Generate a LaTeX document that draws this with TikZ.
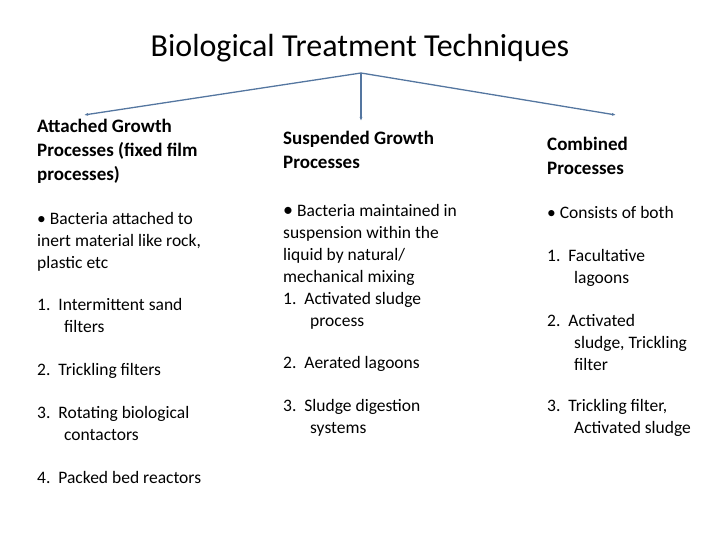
\documentclass[tikz,border=0pt]{standalone}
\usepackage{fontspec}
\usetikzlibrary{arrows.meta}
\setmainfont{Carlito}
\definecolor{lnc}{RGB}{84,118,160}
\begin{document}
\begin{tikzpicture}[x=1pt,y=-1pt,
  t/.style={anchor=north west,align=left,inner sep=0pt,font=\fontsize{17.5}{22}\selectfont},
  h/.style={t,font=\fontsize{19}{24}\selectfont\bfseries},
  ln/.style={draw=lnc,line width=1.3pt},
  ar/.style={ln,-{Latex[length=4pt,width=3pt]}}]
\useasboundingbox (0,0) rectangle (720,540);
\node[anchor=center,font=\fontsize{32}{36}\selectfont] (title) at (360,48) {Biological Treatment Techniques};
\coordinate (apex) at (361,73);
\coordinate (l) at (84,115);
\coordinate (r) at (616,115);
\coordinate (m) at (361,121);
\draw[ar] (apex) -- (l);
\draw[ar] (apex) -- (r);
\draw[ar] (apex) -- (m);
\node[h] (h1) at (37,119) {Attached Growth\\Processes (fixed film\\processes)};
\node[h] (h2) at (283,131) {Suspended Growth\\Processes};
\node[h] (h3) at (547,137) {Combined\\Processes};
\node[t] (a1) at (37,212) {\textbullet\ Bacteria attached to\\inert material like rock,\\plastic etc};
\node[t] (a2) at (37,298) {1.\ \ Intermittent sand\\\hspace*{27pt}filters};
\node[t] (a3) at (37,363) {2.\ \ Trickling filters};
\node[t] (a4) at (37,406) {3.\ \ Rotating biological\\\hspace*{27pt}contactors};
\node[t] (a5) at (37,471) {4.\ \ Packed bed reactors};
\node[t] (b1) at (283,204) {{\fontsize{20}{22}\selectfont\textbullet} Bacteria maintained in\\suspension within the\\liquid\ by natural/\\mechanical mixing\\1.\ \ Activated sludge\\\hspace*{27pt}process};
\node[t] (b2) at (283,356) {2.\ \ Aerated lagoons};
\node[t] (b3) at (283,399) {3.\ \ Sludge digestion\\\hspace*{27pt}systems};
\node[t] (c1) at (547,206) {\textbullet\ Consists of both};
\node[t] (c2) at (547,249) {1.\ \ Facultative\\\hspace*{27pt}lagoons};
\node[t] (c3) at (547,314) {2.\ \ Activated\\\hspace*{27pt}sludge, Trickling\\\hspace*{27pt}filter};
\node[t] (c4) at (547,399) {3.\ \ Trickling filter,\\\hspace*{27pt}Activated sludge};
\end{tikzpicture}
\end{document}
